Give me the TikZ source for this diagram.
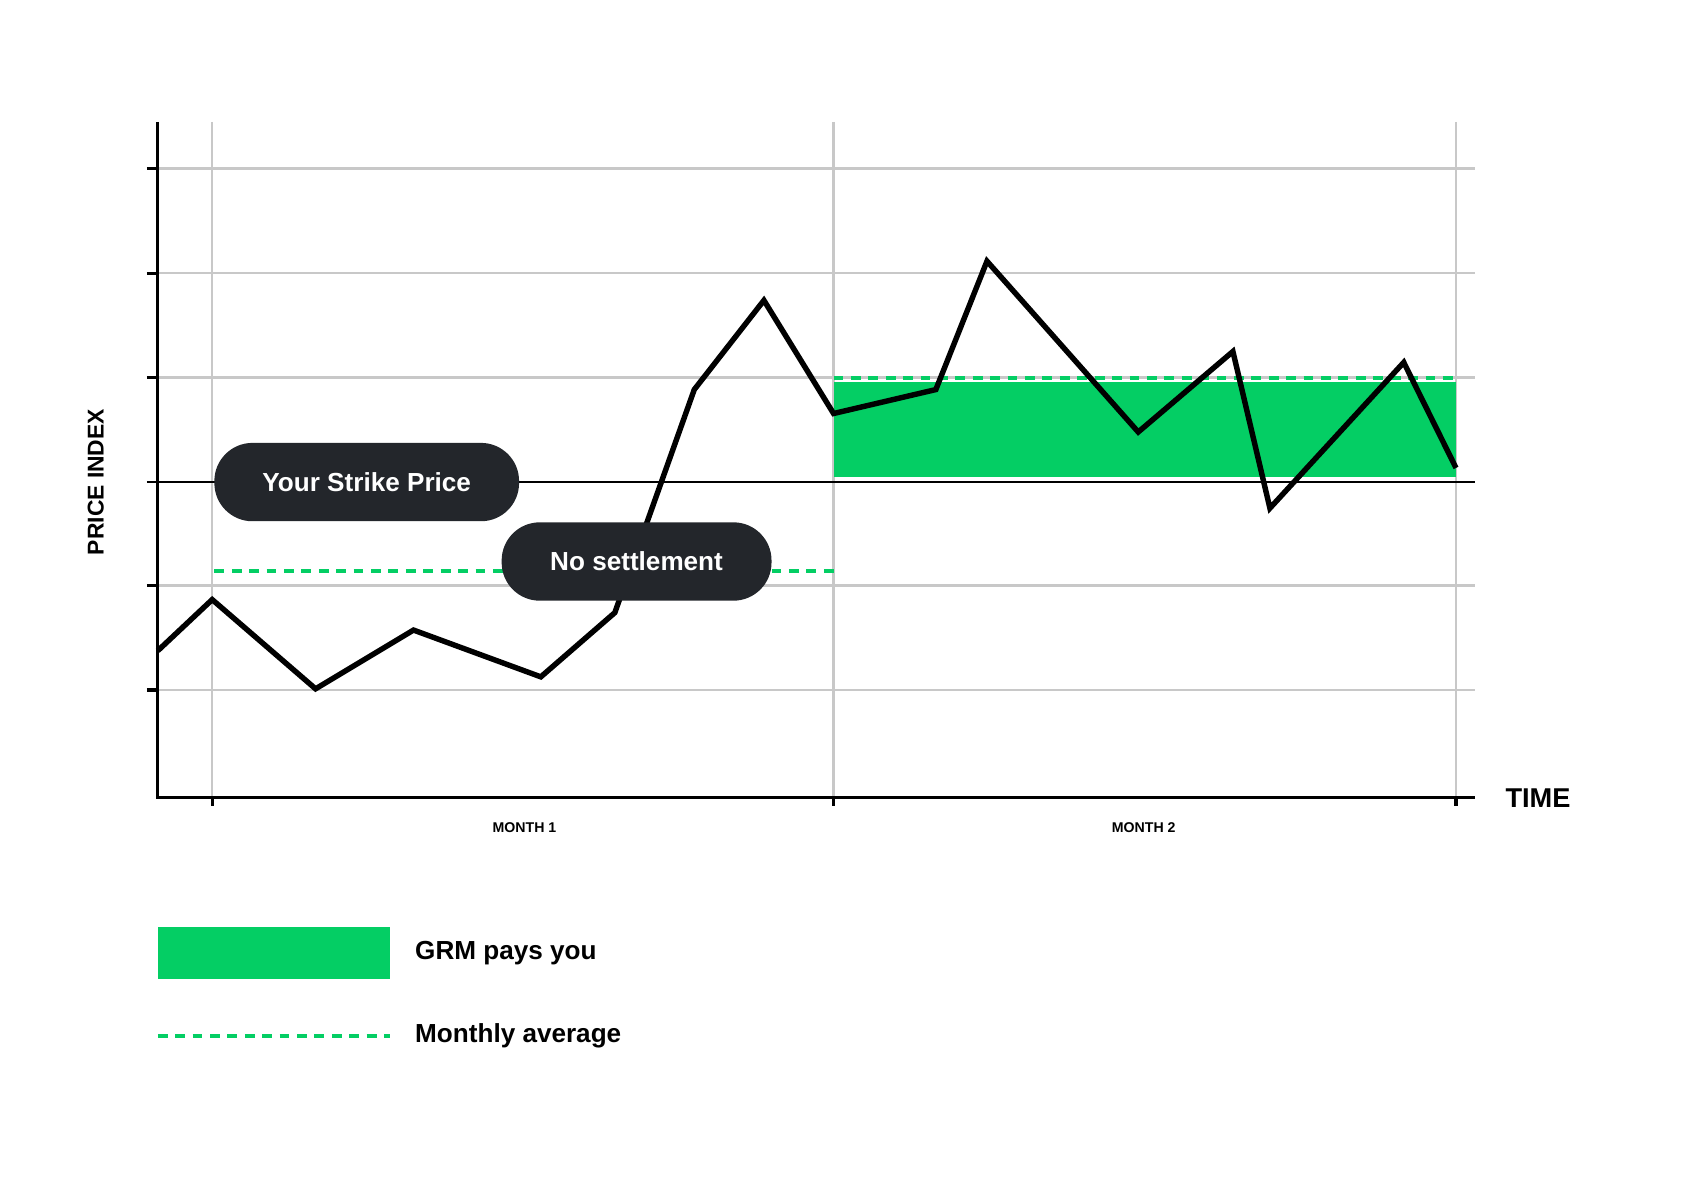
\documentclass[tikz,border=0pt]{standalone}
\usepackage{fontspec}
\setmainfont{Liberation Sans}
\usetikzlibrary{positioning}
\definecolor{grmgreen}{HTML}{04CE64}
\definecolor{pilldark}{HTML}{23262B}
\definecolor{gridgray}{HTML}{C8C8C8}

\begin{document}
\begin{tikzpicture}[x=1pt,y=-1pt,
  gridline/.style={gridgray,line width=2.2pt},
  axisline/.style={black,line width=3pt},
  avgline/.style={grmgreen,line width=3.5pt,dash pattern=on 9pt off 7pt},
  pill/.style={fill=pilldark,text=white,rounded corners=35pt,minimum height=72pt,font=\bfseries\fontsize{24}{28}\selectfont},
  monthlabel/.style={font=\bfseries\fontsize{13}{15}\selectfont}]
\useasboundingbox (0,0) rectangle (1565,1087);
% grid
\foreach \y in {155,251,347,538,634}{
  \draw[gridline] (145,\y) -- (1355,\y);
  \draw[axisline] (135,\y) -- (145,\y);
}
\foreach \x in {195,766,1338}{
  \draw[gridline] (\x,112) -- (\x,733);
  \draw[axisline] (\x,733) -- (\x,741);
}
% payout band and averages
\fill[grmgreen] (766,351) rectangle (1338,438);
\draw[avgline] (197,525) -- (766,525);
\draw[avgline] (766,347) -- (1338,347);
% axes and strike
\draw[axisline] (145,112) -- (145,733) -- (1355,733);
\draw[black,line width=2.2pt] (135,443) -- (1355,443);
% price
\draw[black,line width=5pt,line join=miter]
  (145,598) -- (195,551) -- (290,633) -- (380,579) -- (497,622) -- (565,563)
  -- (638,358) -- (702,276) -- (766,380) -- (860,358) -- (907,240) -- (1046,397)
  -- (1133,323) -- (1167,467) -- (1290,333) -- (1338,430);
% labels
\node[pill,minimum width=280pt] (strike) at (337,443) {Your Strike Price};
\node[pill,minimum width=248pt] (nosettle) at (585,516) {No settlement};
\node[rotate=90,font=\bfseries\fontsize{21}{24}\selectfont] (ylabel) at (88,443) {PRICE INDEX};
\node[anchor=west,font=\bfseries\fontsize{25}{28}\selectfont] (xlabel) at (1380,733) {TIME};
\node[monthlabel] (m1) at (482,761) {MONTH 1};
\node[monthlabel] (m2) at (1051,761) {MONTH 2};
% legend
\fill[grmgreen] (145,852) rectangle (358,900);
\coordinate (paykey) at (358,876);
\node[anchor=west,font=\bfseries\fontsize{24}{28}\selectfont,right=20pt of paykey] (paytext) {GRM pays you};
\draw[avgline] (145,952) -- (358,952) coordinate (avgkey);
\node[anchor=west,font=\bfseries\fontsize{24}{28}\selectfont,right=20pt of avgkey] (avgtext) {Monthly average};
\end{tikzpicture}
\end{document}
